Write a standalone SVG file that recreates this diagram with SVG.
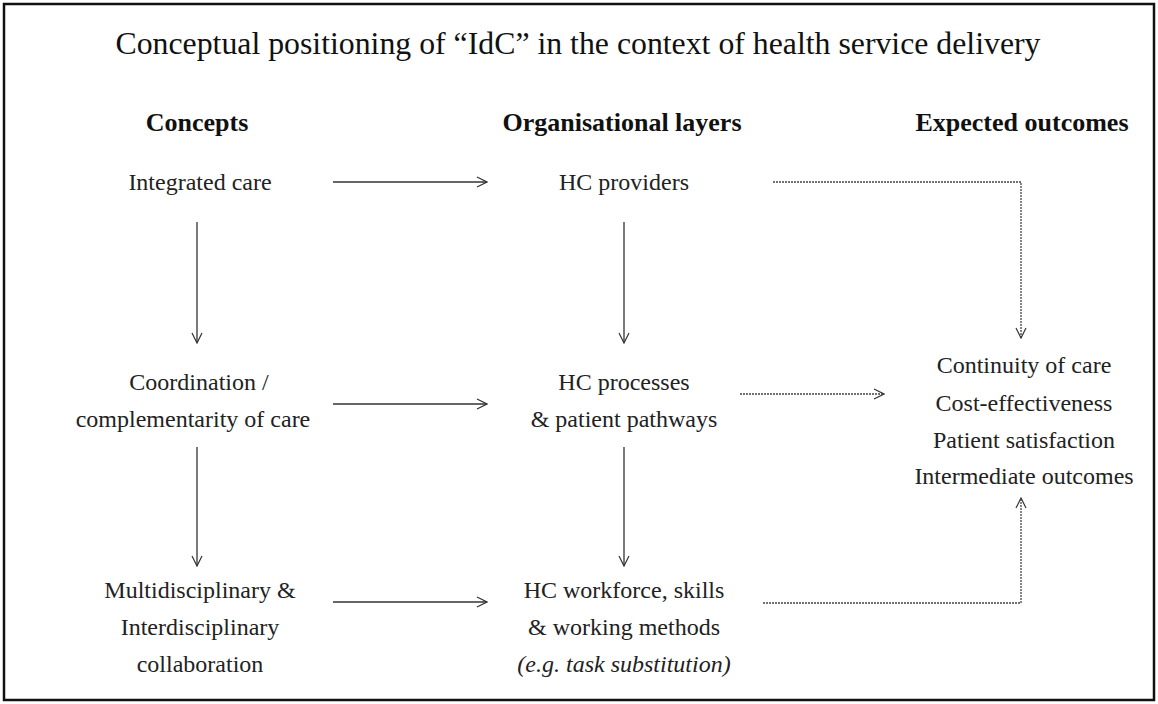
<svg xmlns="http://www.w3.org/2000/svg" width="1158" height="704" viewBox="0 0 1158 704">
<defs>
<marker id="ah" viewBox="0 0 12 12" refX="11" refY="6" markerWidth="12" markerHeight="12" markerUnits="userSpaceOnUse" orient="auto">
<path d="M1,1 L11,6 L1,11" fill="none" stroke="#333" stroke-width="1.2"/>
</marker>
</defs>
<style>
.t{font-family:"Liberation Serif","Times New Roman",serif;font-size:24px;fill:#222;text-anchor:middle}
.h{font-family:"Liberation Serif","Times New Roman",serif;font-size:26px;font-weight:bold;fill:#111;text-anchor:middle}
.i{font-style:italic}
.s{stroke:#333;stroke-width:1.3;fill:none;marker-end:url(#ah)}
.d{stroke:#444;stroke-width:1.3;fill:none;stroke-dasharray:2 1;marker-end:url(#ah)}
</style>
<rect x="0" y="0" width="1158" height="704" fill="#fff"/>
<rect x="4" y="4" width="1150" height="696" fill="none" stroke="#111" stroke-width="2.5"/>
<text x="578" y="54" style="font-family:'Liberation Serif','Times New Roman',serif;font-size:31px;fill:#111;text-anchor:middle" textLength="925" lengthAdjust="spacingAndGlyphs">Conceptual positioning of “IdC” in the context of health service delivery</text>
<g id="headers">
<text class="h" x="197" y="131">Concepts</text>
<text class="h" x="622" y="131">Organisational layers</text>
<text class="h" x="1022" y="131">Expected outcomes</text>
</g>
<g id="integrated-care"><text class="t" x="200" y="190">Integrated care</text></g>
<g id="coordination"><text class="t" x="199" y="390">Coordination /</text><text class="t" x="193" y="427">complementarity of care</text></g>
<g id="multidisciplinary"><text class="t" x="200" y="598">Multidisciplinary &amp;</text><text class="t" x="200" y="635">Interdisciplinary</text><text class="t" x="200" y="672">collaboration</text></g>
<g id="hc-providers"><text class="t" x="624" y="190">HC providers</text></g>
<g id="hc-processes"><text class="t" x="624" y="390">HC processes</text><text class="t" x="624" y="427">&amp; patient pathways</text></g>
<g id="hc-workforce"><text class="t" x="624" y="598">HC workforce, skills</text><text class="t" x="624" y="635">&amp; working methods</text><text class="t i" x="624" y="672">(e.g. task substitution)</text></g>
<g id="outcomes"><text class="t" x="1024" y="373">Continuity of care</text><text class="t" x="1024" y="411">Cost-effectiveness</text><text class="t" x="1024" y="448">Patient satisfaction</text><text class="t" x="1024" y="484">Intermediate outcomes</text></g>
<g id="connectors">
<line class="s" x1="333" y1="182" x2="487" y2="182"/>
<line class="s" x1="333" y1="404" x2="487" y2="404"/>
<line class="s" x1="333" y1="602" x2="487" y2="602"/>
<line class="s" x1="197" y1="222" x2="197" y2="343"/>
<line class="s" x1="197" y1="447" x2="197" y2="566"/>
<line class="s" x1="624" y1="222" x2="624" y2="343"/>
<line class="s" x1="624" y1="447" x2="624" y2="566"/>
<polyline class="d" points="773,182 1021,182 1021,338"/>
<line class="d" x1="740" y1="394" x2="884" y2="394"/>
<polyline class="d" points="763,603 1021,603 1021,498"/>
</g>
</svg>
